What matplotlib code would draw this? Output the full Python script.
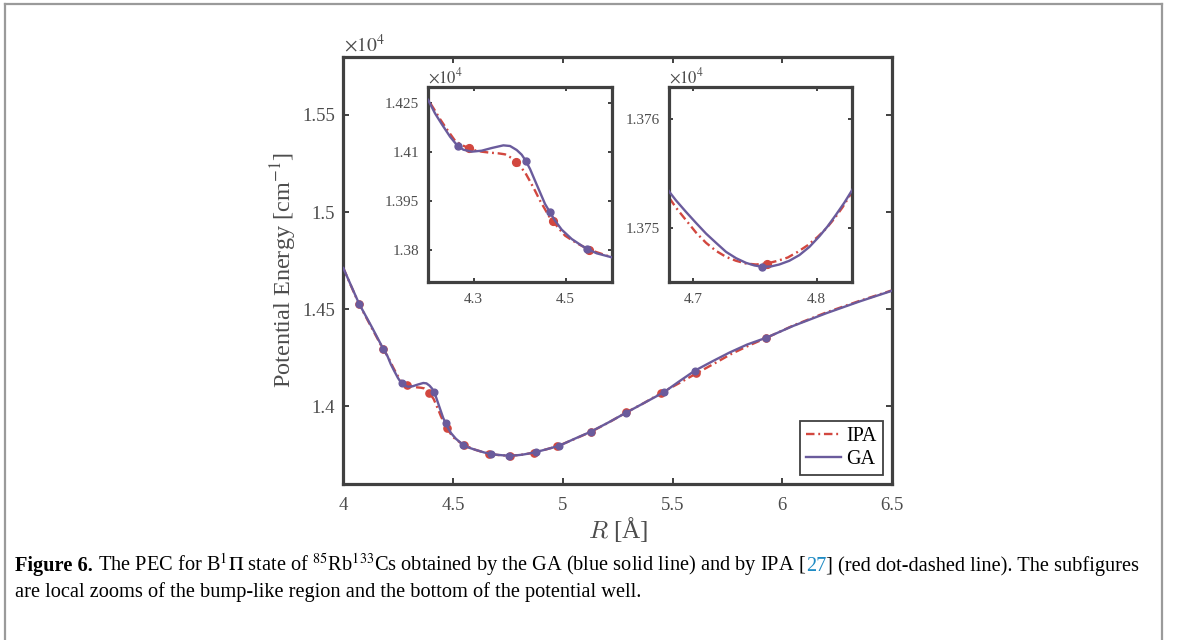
import matplotlib
matplotlib.use('Agg')
import matplotlib.pyplot as plt
from matplotlib.lines import Line2D

# ---------------- data (R in Angstrom, energy in 10^4 cm^-1) ----------------
R_ga = [4.000, 4.036, 4.0715, 4.129, 4.182, 4.2014, 4.2159, 4.2304, 4.2486, 4.2652,
        4.2775, 4.2957, 4.3174, 4.3391, 4.3645, 4.3790, 4.3935, 4.4043, 4.4130, 4.4225,
        4.4333, 4.4442, 4.4551, 4.4659, 4.4768, 4.4913, 4.5130, 4.5348, 4.5471, 4.5674,
        4.6000, 4.6200, 4.6400, 4.6600,
        4.6800, 4.6859, 4.6941, 4.7022, 4.7103, 4.7184, 4.7265, 4.7346, 4.7427, 4.7495,
        4.7557, 4.7630, 4.7697, 4.7778, 4.7859, 4.7941, 4.8022, 4.8089, 4.8157, 4.8224,
        4.8286, 4.8550, 4.8800, 4.9300, 4.9840, 5.0500, 5.1270, 5.2100, 5.2900, 5.3750,
        5.4600, 5.5300, 5.6010, 5.6840, 5.7600, 5.8400, 5.9270, 6.0500, 6.2000, 6.3500, 6.5000]
E_ga = [1.4712, 1.4620, 1.4529, 1.4410, 1.4296, 1.42582, 1.42182, 1.41856, 1.41467, 1.41181,
        1.41068, 1.41007, 1.41037, 1.41119, 1.41201, 1.41181, 1.41058, 1.40915, 1.40731, 1.40475,
        1.40117, 1.39760, 1.39402, 1.39146, 1.38891, 1.38615, 1.38329, 1.38124, 1.38022, 1.37889,
        1.37767, 1.37700, 1.37630, 1.37575,
        1.375340, 1.375254, 1.375147, 1.375046, 1.374948, 1.374863, 1.374780, 1.374722, 1.374679, 1.374655,
        1.374643, 1.374646, 1.374664, 1.374698, 1.374750, 1.374826, 1.374924, 1.375016, 1.375123, 1.375233,
        1.375346, 1.37590, 1.37650, 1.37800, 1.37970, 1.38310, 1.38690, 1.39180, 1.39680, 1.40200,
        1.40720, 1.41280, 1.41830, 1.42330, 1.42770, 1.43180, 1.43530, 1.44140, 1.44790, 1.45390, 1.45950]

R_ipa = [4.000, 4.036, 4.0715, 4.129, 4.182, 4.2014, 4.2159, 4.2268, 4.2413, 4.2594,
         4.2739, 4.2906, 4.3029, 4.3174, 4.3355, 4.3536, 4.3681, 4.3826, 4.3913, 4.4014,
         4.4116, 4.4225, 4.4333, 4.4442, 4.4551, 4.4638, 4.4717, 4.4841, 4.4986, 4.5130,
         4.5275, 4.5507, 4.5746, 4.6000, 4.6200, 4.6400, 4.6600,
         4.6800, 4.6859, 4.6941, 4.7022, 4.7103, 4.7184, 4.7265, 4.7346, 4.7427, 4.7508,
         4.7597, 4.7684, 4.7765, 4.7846, 4.7927, 4.8008, 4.8076, 4.8143, 4.8211, 4.8286,
         4.8700, 4.9200, 4.9750, 5.0500, 5.1270, 5.2100, 5.2900, 5.3700, 5.4490, 5.5300,
         5.6080, 5.6900, 5.7700, 5.8500, 5.9270, 6.0500, 6.2000, 6.3500, 6.5000]
E_ipa = [1.4712, 1.4618, 1.4527, 1.4405, 1.4293, 1.42591, 1.42264, 1.42008, 1.41702, 1.41344,
         1.41211, 1.41109, 1.41048, 1.41007, 1.40976, 1.40956, 1.40925, 1.40813, 1.40700, 1.40547,
         1.40373, 1.40097, 1.39811, 1.39504, 1.39238, 1.39024, 1.38891, 1.38666, 1.38431, 1.38298,
         1.38175, 1.38002, 1.37889, 1.37767, 1.37695, 1.37625, 1.37570,
         1.375285, 1.375187, 1.375071, 1.374957, 1.374863, 1.374789, 1.374734, 1.374698, 1.374673, 1.374664,
         1.374673, 1.374698, 1.374728, 1.374780, 1.374841, 1.374918, 1.374994, 1.375086, 1.375193, 1.375331,
         1.37620, 1.37770, 1.37940, 1.38300, 1.38680, 1.39170, 1.39690, 1.40170, 1.40690, 1.41190,
         1.41690, 1.42200, 1.42710, 1.43140, 1.43520, 1.44160, 1.44830, 1.45420, 1.45970]

R_ga_pts = [4.0715, 4.182, 4.2652, 4.4130, 4.4659, 4.5471, 4.675, 4.7557, 4.880, 4.984,
            5.127, 5.290, 5.460, 5.601, 5.927]
E_ga_pts = [1.4529, 1.4296, 1.41181, 1.40731, 1.39146, 1.38022, 1.37545, 1.374643, 1.37650, 1.37970,
            1.38690, 1.39680, 1.40720, 1.41830, 1.43530]
R_ipa_pts = [4.0715, 4.182, 4.2906, 4.3913, 4.4717, 4.5507, 4.662, 4.7597, 4.870, 4.975,
             5.127, 5.290, 5.449, 5.608, 5.927]
E_ipa_pts = [1.4527, 1.4293, 1.41109, 1.40700, 1.38891, 1.38002, 1.37566, 1.374673, 1.37620, 1.37940,
             1.38680, 1.39690, 1.40690, 1.41690, 1.43520]

main_xticks = [4, 4.5, 5, 5.5, 6, 6.5]
main_xlabels = ['4', '4.5', '5', '5.5', '6', '6.5']
main_yticks = [1.4, 1.45, 1.5, 1.55]
main_ylabels = ['1.4', '1.45', '1.5', '1.55']
in1_xticks = [4.3, 4.5]
in1_xlabels = ['4.3', '4.5']
in1_yticks = [1.38, 1.395, 1.41, 1.425]
in1_ylabels = ['1.38', '1.395', '1.41', '1.425']
in2_xticks = [4.7, 4.8]
in2_xlabels = ['4.7', '4.8']
in2_yticks = [1.375, 1.376]
in2_ylabels = ['1.375', '1.376']

legend_labels = ['IPA', 'GA']

# ---------------- style ----------------
plt.rcParams['font.family'] = ['Liberation Serif', 'DejaVu Serif']
plt.rcParams['mathtext.fontset'] = 'stix'

W, H = 1179, 640
C_GA = '#6a5b9c'
C_IPA = '#d2473f'
C_AX = '#404040'
C_TXT = '#4d4d4d'
DASH = [3.6, 1.6, 0.8, 1.6]

fig = plt.figure(figsize=(W / 100, H / 100), dpi=100)
fig.patch.set_facecolor('white')


def fx(px):
    return px / W


def fy(py):
    return 1 - py / H


def style_axes(ax, lw, fs, tl):
    for s in ax.spines.values():
        s.set_linewidth(lw)
        s.set_color(C_AX)
    ax.tick_params(direction='in', length=tl, width=1.4, color=C_AX,
                   labelcolor=C_TXT, labelsize=fs, top=True, right=True, pad=6)


def draw_curves(ax, lw, ms_ga, ms_ipa):
    ax.plot(R_ipa, E_ipa, color=C_IPA, lw=lw, dashes=DASH, zorder=2,
            solid_joinstyle='round', dash_joinstyle='round')
    ax.plot(R_ipa_pts, E_ipa_pts, 'o', color=C_IPA, ms=ms_ipa, mec=C_IPA, zorder=3)
    ax.plot(R_ga, E_ga, color=C_GA, lw=lw, zorder=4, solid_joinstyle='round')
    ax.plot(R_ga_pts, E_ga_pts, 'o', color=C_GA, ms=ms_ga, mec=C_GA, zorder=5)


# main axes
ax = fig.add_axes([fx(343.3), fy(484), fx(892 - 343.3), (484 - 56.7) / H])
draw_curves(ax, 1.7, 4.8, 5.2)
ax.set_xlim(4, 6.5)
ax.set_ylim(1.36, 1.58)
ax.set_xticks(main_xticks)
ax.set_xticklabels(main_xlabels)
ax.set_yticks(main_yticks)
ax.set_yticklabels(main_ylabels)
style_axes(ax, 2.3, 13.5, 4)
ax.tick_params(axis='x', pad=9)
ax.set_ylabel('Potential Energy [cm$^{\\mathrm{-1}}$]', fontsize=17.5, color=C_TXT, labelpad=2)
ax.set_xlabel(r'$R$ [Å]', fontsize=18, color=C_TXT, labelpad=1,
              math_fontfamily='cm')
ax.text(0.002, 1.003, r'$\times10^{4}$', transform=ax.transAxes, fontsize=14,
        color=C_TXT, ha='left', va='bottom')

handles = [Line2D([], [], color=C_IPA, lw=1.7, dashes=DASH),
           Line2D([], [], color=C_GA, lw=1.7)]
leg = ax.legend(handles, legend_labels, loc='lower right', fontsize=14.5,
                frameon=True, fancybox=False, framealpha=1, edgecolor=C_AX,
                handlelength=1.75, handletextpad=0.25, borderaxespad=0.45,
                borderpad=0.3, labelspacing=0.2)
leg.get_frame().set_linewidth(1.3)

# inset 1
a1 = fig.add_axes([fx(427.7), fy(282.3), fx(611.7 - 427.7), (282.3 - 86.7) / H])
draw_curves(a1, 1.7, 5, 5.6)
a1.set_xlim(4.2, 4.6)
a1.set_ylim(1.37, 1.43)
a1.set_xticks(in1_xticks)
a1.set_xticklabels(in1_xlabels)
a1.set_yticks(in1_yticks)
a1.set_yticklabels(in1_ylabels)
style_axes(a1, 2.3, 11, 3)
a1.tick_params(axis='x', pad=8)
a1.text(0.0, 1.0, r'$\times10^{4}$', transform=a1.transAxes, fontsize=12,
        color=C_TXT, ha='left', va='bottom')

# inset 2
a2 = fig.add_axes([fx(668.7), fy(282.3), fx(852 - 668.7), (282.3 - 86.7) / H])
draw_curves(a2, 1.7, 5, 5.6)
a2.set_xlim(4.68, 4.8286)
a2.set_ylim(1.3745, 1.3763)
a2.set_xticks(in2_xticks)
a2.set_xticklabels(in2_xlabels)
a2.set_yticks(in2_yticks)
a2.set_yticklabels(in2_ylabels)
style_axes(a2, 2.3, 11, 3)
a2.tick_params(axis='x', pad=8)
a2.text(0.0, 1.0, r'$\times10^{4}$', transform=a2.transAxes, fontsize=12,
        color=C_TXT, ha='left', va='bottom')

# figure frame
fr = dict(color='#9a9a9a', lw=1.6, transform=fig.transFigure, clip_on=False)
fig.add_artist(Line2D([fx(5), fx(5)], [0, fy(4)], **fr))
fig.add_artist(Line2D([fx(5), fx(1162)], [fy(4), fy(4)], **fr))
fig.add_artist(Line2D([fx(1162), fx(1162)], [0, fy(4)], **fr))

# caption
line1 = [("Figure 6.", dict(weight='bold')),
         (" ", {}),
         ("The PEC for B$^{1}\\Pi$ state of $^{85}$Rb$^{133}$Cs obtained by the GA (blue solid line) and by IPA [", {}),
         ("27", dict(color='#1f8bc4')),
         ("] (red dot-dashed line). The subfigures", {})]
line2 = [("are local zooms of the bump-like region and the bottom of the potential well.", {})]

renderer = fig.canvas.get_renderer()


def space_width(size):
    t1 = fig.text(0, 0, 'a a', fontsize=size)
    t2 = fig.text(0, 0, 'aa', fontsize=size)
    w = t1.get_window_extent(renderer).width - t2.get_window_extent(renderer).width
    t1.remove()
    t2.remove()
    return w


def draw_segments(x0, ybase, segs, size):
    x = x0
    arts = []
    sw = space_width(size)
    for s, kw in segs:
        if s == " ":
            x += sw
            continue
        t = fig.text(fx(x), fy(ybase), s, fontsize=size, ha='left', va='baseline',
                     color=kw.get('color', 'black'), weight=kw.get('weight', 'normal'))
        arts.append(t)
        x += t.get_window_extent(renderer).width
    return x - x0, arts


w0, arts = draw_segments(15, 571, line1, 12)
for a in arts:
    a.remove()
size = 12 * (1135 - 15) / w0
draw_segments(15, 571, line1, size)
draw_segments(15, 597, line2, size)

fig.savefig('out.png', dpi=100)
